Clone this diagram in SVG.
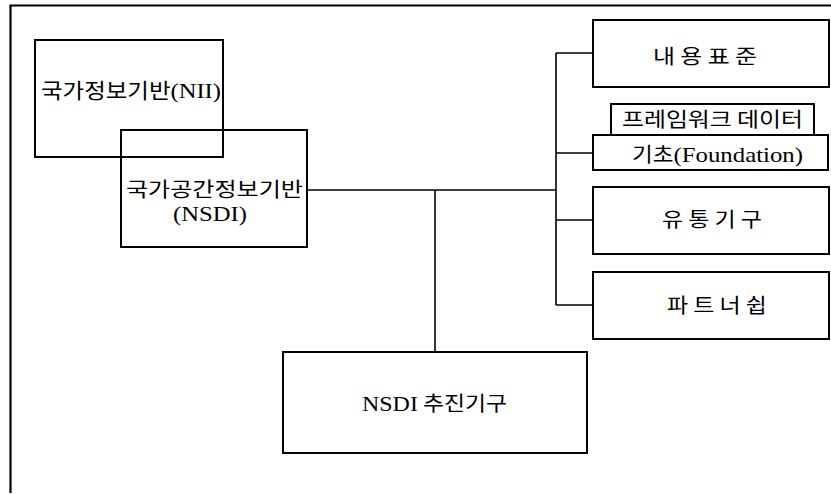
<svg xmlns="http://www.w3.org/2000/svg" width="831" height="494" viewBox="0 0 831 494">
<style>
.box{fill:none;stroke:#000;stroke-width:2}
.wbox{fill:#fff;stroke:#000;stroke-width:2}
.con{fill:none;stroke:#000;stroke-width:1.6}
text{font-family:"Noto Sans CJK KR","Noto Sans",sans-serif;fill:#000}
.lat{font-family:"Liberation Serif","Times New Roman","DejaVu Serif",serif}
.k21{font-size:21px}
.k20{font-size:20px}
</style>
<rect width="831" height="494" fill="#fff"/>
<path d="M10.5,493 V5.5 H831" fill="none" stroke="#000" stroke-width="2.2"/>
<g id="connectors">
<path class="con" d="M307,190 H556"/>
<path class="con" d="M556,53 V305"/>
<path class="con" d="M556,53 H593 M556,153 H593 M556,220 H593 M556,305 H593"/>
<path class="con" d="M435,190 V352"/>
</g>
<g id="nii">
<rect class="box" x="35" y="40" width="188" height="117"/>
<text class="k21" x="41" y="98" textLength="180" lengthAdjust="spacingAndGlyphs">국가정보기반<tspan class="lat" font-size="22">(NII)</tspan></text>
</g>
<g id="nsdi">
<rect class="box" x="121" y="130" width="186" height="117"/>
<text class="k20" x="126" y="197" textLength="177" lengthAdjust="spacingAndGlyphs">국가공간정보기반</text>
<text class="lat" x="173" y="221" font-size="20" textLength="74" lengthAdjust="spacingAndGlyphs">(NSDI)</text>
</g>
<g id="content">
<rect class="box" x="593" y="20" width="236" height="67"/>
<text class="k20" x="653" y="64" textLength="104" lengthAdjust="spacingAndGlyphs">내 용 표 준</text>
</g>
<g id="framework">
<rect class="wbox" x="611" y="104" width="203" height="31"/>
<text class="k20" x="622" y="127" textLength="181" lengthAdjust="spacingAndGlyphs">프레임워크 데이터</text>
</g>
<g id="foundation">
<rect class="wbox" x="593" y="135" width="235" height="35"/>
<text class="k20" x="632" y="162" textLength="171" lengthAdjust="spacingAndGlyphs">기초<tspan class="lat" font-size="22">(Foundation)</tspan></text>
</g>
<g id="distribution">
<rect class="box" x="593" y="187" width="236" height="67"/>
<text class="k20" x="662" y="227" textLength="100" lengthAdjust="spacingAndGlyphs">유 통 기 구</text>
</g>
<g id="partnership">
<rect class="box" x="593" y="272" width="236" height="67"/>
<text class="k20" x="667" y="313" textLength="100" lengthAdjust="spacingAndGlyphs">파 트 너 쉽</text>
</g>
<g id="nsdi-agency">
<rect class="box" x="283" y="352" width="304" height="101"/>
<text class="k20" x="362" y="411" textLength="145" lengthAdjust="spacingAndGlyphs"><tspan class="lat" font-size="21">NSDI</tspan> 추진기구</text>
</g>
</svg>
